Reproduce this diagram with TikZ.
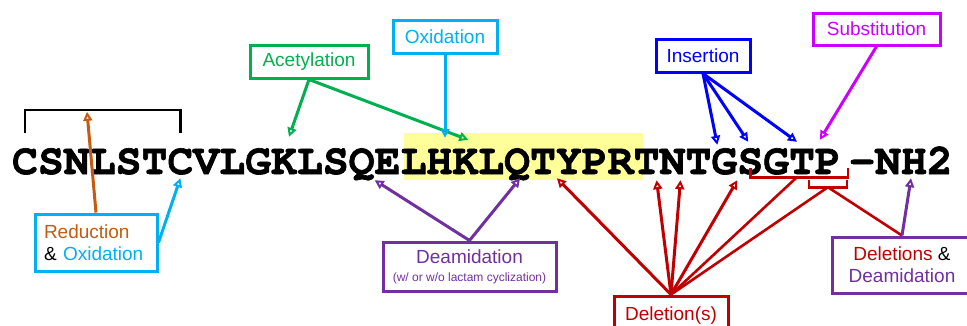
\documentclass[tikz,border=0pt]{standalone}
\usepackage{fontspec}
\setmainfont{Liberation Sans}
\newfontfamily\seqfont{texgyrecursor-bold.otf}[FakeBold=1.5]
\usetikzlibrary{arrows.meta}
\definecolor{acgreen}{HTML}{00B050}
\definecolor{oxcyan}{HTML}{00B0F0}
\definecolor{insblue}{HTML}{0000FF}
\definecolor{submag}{HTML}{CC00FF}
\definecolor{redorange}{HTML}{C55A11}
\definecolor{deampurple}{HTML}{7030A0}
\definecolor{delred}{HTML}{C00000}
\definecolor{hlyellow}{HTML}{FFFF99}

\begin{document}
\begin{tikzpicture}[
    x=1pt, y=-1pt,
    res/.style={font=\seqfont\fontsize{43.2}{48}\selectfont, inner sep=0pt,
        minimum width=25.9pt, text height=27pt, text depth=0pt, anchor=base},
    modbox/.style={draw, line width=3pt, inner sep=0pt, align=center,
        font=\fontsize{19}{22}\selectfont},
    modarrow/.style={line width=3pt,
        -{Triangle[open, length=9pt, width=9pt, line width=2pt]}},
    modline/.style={line width=2.6pt}
]
\clip (0,0) rectangle (967,325);
\fill[hlyellow] (404,133) rectangle (643,180);

\foreach \aa [count=\i] in {C,S,N,L,S,T,C,V,L,G,K,L,S,Q,E,L,H,K,L,Q,T,Y,P,R,T,N,T,G,S,G,T,P}
    \node[res] (r\i) at ({25+25.9*(\i-1)},174) {\aa};
\node[res] (amide) at (901,174) {-NH2};

\node[modbox, acgreen, minimum width=118pt, minimum height=33pt] (acet) at (309,61.5) {Acetylation};
\node[modbox, oxcyan, minimum width=104pt, minimum height=33pt] (ox) at (445,36.5) {Oxidation};
\node[modbox, insblue, minimum width=94pt, minimum height=33pt] (ins) at (703,55.5) {Insertion};
\node[modbox, submag, minimum width=127pt, minimum height=32pt] (subst) at (876.5,29) {Substitution};
\node[modbox, oxcyan, minimum width=122pt, minimum height=57pt, align=left, text width=104pt] (redox) at (96,242.5)
    {\textcolor{redorange}{Reduction}\\ \textcolor{black}{\&} Oxidation};
\node[modbox, deampurple, minimum width=173pt, minimum height=49pt] (deam) at (469.5,266.5)
    {Deamidation\\[-4pt] {\fontsize{12}{14}\selectfont (w/ or w/o lactam cyclization)}};
\node[modbox, delred, minimum width=114pt, minimum height=39pt] (del) at (671,315.5) {Deletion(s)};
\node[modbox, deampurple, minimum width=140pt, minimum height=56pt] (deldeam) at (902,265)
    {\textcolor{delred}{Deletions} \textcolor{black}{\&}\\ Deamidation};

\draw[line width=2.4pt] ([yshift=14pt]r1.north) -- ++(0,-23) -| ([yshift=14pt]r7.north);
\coordinate (ssbond) at ([xshift=62pt,yshift=35pt]r1.north);
\draw[modarrow, redorange] (redox.north) -- (ssbond);
\draw[modarrow, oxcyan] (redox.east) -- ([yshift=-4pt]r7.south);

\draw[modarrow, acgreen] (acet.south) -- ([xshift=5pt,yshift=10pt]r11.north);
\draw[modarrow, acgreen] (acet.south) -- ([xshift=3pt,yshift=7pt]r18.north);
\draw[modarrow, oxcyan, shorten >=9pt] (ox.south) -- (ox.south |- r17.north);

\draw[modarrow, insblue] (ins.south) -- ([xshift=-7pt,yshift=2pt]r28.north);
\draw[modarrow, insblue] (ins.south) -- ([xshift=-2pt,yshift=5pt]r29.north);
\draw[modarrow, insblue] (ins.south) -- ([xshift=-5pt,yshift=5pt]r31.north);
\draw[modarrow, submag] (subst.south) -- ([xshift=-8pt,yshift=7pt]r32.north);

\draw[modarrow, deampurple] (deam.north) -- ([xshift=13pt,yshift=-6pt]r14.south);
\draw[modarrow, deampurple] (deam.north) -- ([xshift=3pt,yshift=-4pt]r20.south);

\draw[modarrow, delred] (del.north) -- ([xshift=-12pt,yshift=-4pt]r22.south);
\draw[modarrow, delred] (del.north) -- ([xshift=10pt,yshift=-6pt]r25.south);
\draw[modarrow, delred] (del.north) -- ([xshift=8pt,yshift=-6pt]r26.south);
\draw[modarrow, delred] (del.north) -- ([xshift=13pt,yshift=-6pt]r28.south);
\draw[modline, delred] ([yshift=6pt]r29.south) -- ++(0,9) -| ([xshift=20pt,yshift=6pt]r32.south);
\draw[modline, delred] ([xshift=-19pt,yshift=-6pt]r32.south) -- ++(0,7) -| ([xshift=19pt,yshift=-6pt]r32.south);
\coordinate (gtpcut) at ([xshift=-31pt,yshift=-3pt]r32.south);
\coordinate (pcut) at ([yshift=-13pt]r32.south);
\draw[modline, delred] (del.north) -- (gtpcut);
\draw[modline, delred] (del.north) -- (pcut);
\draw[modline, delred] (pcut) -- (deldeam.north);
\draw[modarrow, deampurple] (deldeam.north) -- ([xshift=10pt,yshift=-4pt]amide.south);
\end{tikzpicture}
\end{document}
